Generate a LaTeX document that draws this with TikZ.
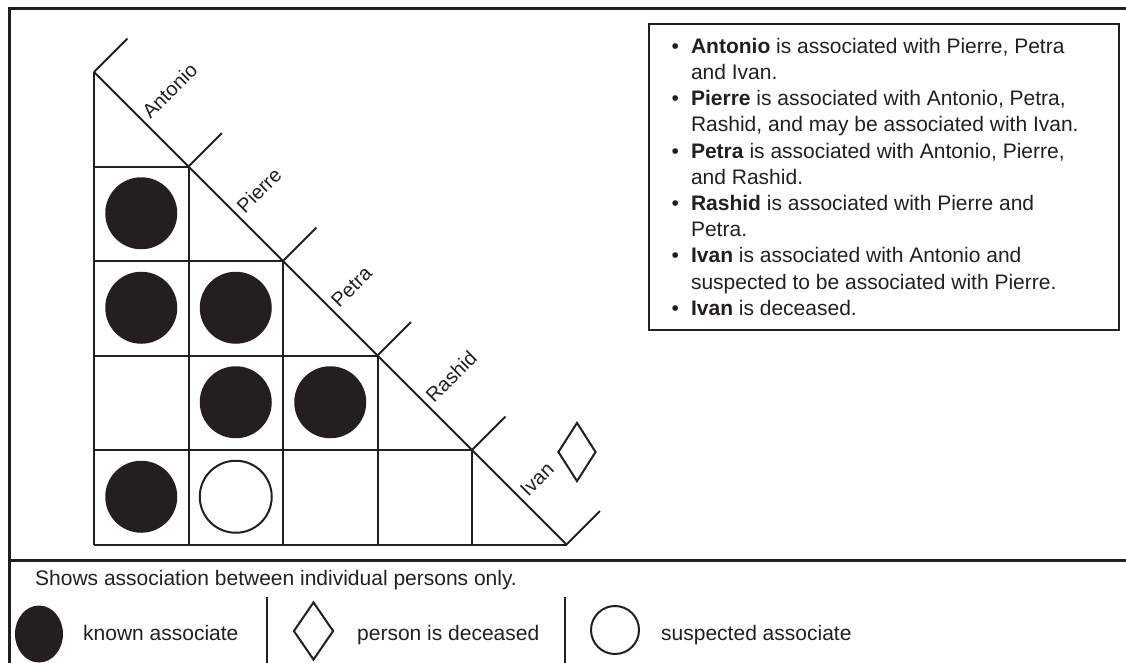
\documentclass[tikz,border=0pt]{standalone}
\usepackage{fontspec}
\setmainfont{Liberation Sans}
\usetikzlibrary{shapes.geometric,calc}
\definecolor{ink}{HTML}{231F20}

\begin{document}
\begin{tikzpicture}[x=1pt, y=-1pt,
  frame/.style={draw=ink, line width=3pt},
  gridline/.style={draw=ink, line width=2pt},
  known/.style={circle, fill=ink, minimum size=72pt, inner sep=0pt},
  suspect/.style={circle, draw=ink, line width=2pt, minimum size=72pt, inner sep=0pt},
  dead/.style={diamond, draw=ink, line width=2pt, minimum width=38pt, minimum height=59pt, inner sep=0pt},
  person/.style={font=\fontsize{20}{24}\selectfont, text=ink, rotate=45, anchor=west, inner sep=6pt},
  legendtext/.style={font=\fontsize{21}{25}\selectfont, text=ink, anchor=base west, inner sep=0pt},
]
\useasboundingbox (0,0) rectangle (1126,662);

% outer frame and legend separator
\coordinate (tr) at (1130,8);
\coordinate (tl) at (9,8);
\coordinate (bl) at (9,666);
\coordinate (sepl) at (9,560);
\coordinate (sepr) at (1130,560);
\draw[frame] (tr) -- (tl) -- (bl);
\draw[frame] (sepl) -- (sepr);

% corners of the staircase along the diagonal
\foreach \k in {0,...,5} {
  \coordinate (v\k) at ({94+94.5*\k},{72+94.5*\k});
  \coordinate (t\k) at ({94+94.5*\k+33.5},{72+94.5*\k-33.5});
  \coordinate (b\k) at ({94+94.5*\k},544.5);
  \coordinate (l\k) at (94,{72+94.5*\k});
}

% grid of the association triangle
\draw[gridline] (v0) -- (b0);
\draw[gridline] (v0) -- (v5);
\foreach \k in {1,...,5} { \draw[gridline] (l\k) -- (v\k); }
\foreach \k in {1,...,4} { \draw[gridline] (v\k) -- (b\k); }
\foreach \k in {0,...,5} { \draw[gridline] (v\k) -- (t\k); }

% names between the tick marks
\node[person] (nAntonio) at ($(v0)!0.5!(v1)$) {Antonio};
\node[person] (nPierre) at ($(v1)!0.5!(v2)$) {Pierre};
\node[person] (nPetra) at ($(v2)!0.5!(v3)$) {Petra};
\node[person] (nRashid) at ($(v3)!0.5!(v4)$) {Rashid};
\node[person] (nIvan) at ($(v4)!0.5!(v5)$) {Ivan};
\node[dead] (ivanDead) at (577,452) {};

% association marks (row = person, column = associate)
\node[known] (pierreAntonio) at (141.25,213.25) {};
\node[known] (petraAntonio) at (141.25,307.75) {};
\node[known] (petraPierre) at (235.75,307.75) {};
\node[known] (rashidPierre) at (235.75,402.25) {};
\node[known] (rashidPetra) at (330.25,402.25) {};
\node[known] (ivanAntonio) at (141.25,496.75) {};
\node[suspect] (ivanPierre) at (235.75,496.75) {};

% notes box
\node[draw=ink, line width=2.5pt, minimum width=470pt, minimum height=306pt, inner sep=0pt] (notes) at (884,177) {};
\node[anchor=north west, inner sep=0pt, text=ink, font=\fontsize{21}{26.2}\selectfont] (notetext) at (671.5,34.7) {%
\begin{tabular}{@{}l@{\hspace{12pt}}l@{}}
• & \textbf{Antonio} is associated with Pierre, Petra\\
  & and Ivan.\\
• & \textbf{Pierre} is associated with Antonio, Petra,\\
  & Rashid, and may be associated with Ivan.\\
• & \textbf{Petra} is associated with Antonio, Pierre,\\
  & and Rashid.\\
• & \textbf{Rashid} is associated with Pierre and\\
  & Petra.\\
• & \textbf{Ivan} is associated with Antonio and\\
  & suspected to be associated with Pierre.\\
• & \textbf{Ivan} is deceased.
\end{tabular}};

% legend
\node[legendtext] (caption) at (35,585) {Shows association between individual persons only.};
\node[ellipse, fill=ink, minimum width=48pt, minimum height=57pt, inner sep=0pt] (keyKnown) at (39,634) {};
\node[legendtext] (keyKnownText) at (83,640) {known associate};
\coordinate (d1t) at (267,597);
\coordinate (d1b) at (267,666);
\draw[gridline] (d1t) -- (d1b);
\node[diamond, draw=ink, line width=2pt, minimum width=40pt, minimum height=58pt, inner sep=0pt] (keyDead) at (313.5,631) {};
\node[legendtext] (keyDeadText) at (357,640) {person is deceased};
\coordinate (d2t) at (565,597);
\coordinate (d2b) at (565,666);
\draw[gridline] (d2t) -- (d2b);
\node[circle, draw=ink, line width=2pt, minimum size=48pt, inner sep=0pt] (keySuspect) at (615,630) {};
\node[legendtext] (keySuspectText) at (661,640) {suspected associate};
\end{tikzpicture}
\end{document}
